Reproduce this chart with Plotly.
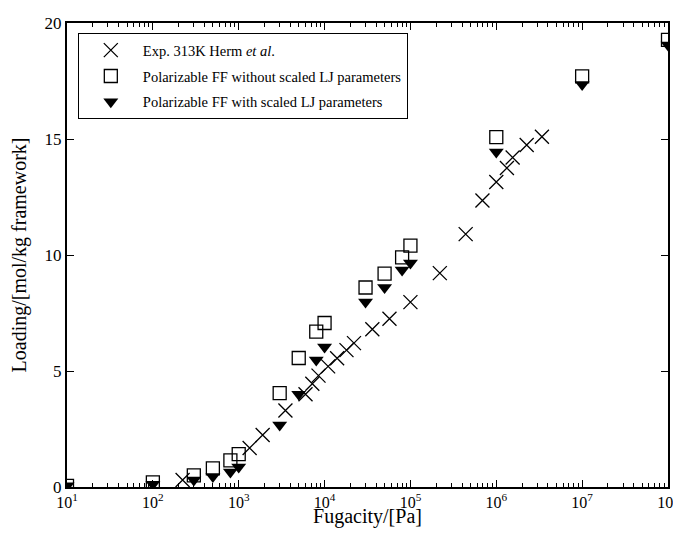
import plotly.graph_objects as go

# Experimental data (Herm et al., 313 K)
exp_fugacity = [222, 1340, 1900, 3500, 6000, 7200, 8500, 11000, 14000, 18000,
                22000, 36000, 57000, 100000, 220000, 440000, 690000, 1000000,
                1330000, 1550000, 2260000, 3400000]
exp_loading = [0.30, 1.68, 2.24, 3.30, 4.00, 4.45, 4.80, 5.20, 5.55, 5.90,
               6.20, 6.80, 7.25, 7.97, 9.22, 10.90, 12.35, 13.15,
               13.75, 14.20, 14.74, 15.10]

# Simulation fugacities
sim_fugacity = [10, 100, 300, 500, 800, 1000, 3000, 5000, 8000, 10000,
                30000, 50000, 80000, 100000, 1000000, 10000000, 100000000]
# Polarizable FF without scaled LJ parameters
unscaled_loading = [0.05, 0.20, 0.50, 0.80, 1.15, 1.42, 4.05, 5.56, 6.70, 7.07,
                    8.60, 9.20, 9.90, 10.40, 15.08, 17.70, 19.27]
# Polarizable FF with scaled LJ parameters
scaled_loading = [0.05, 0.12, 0.30, 0.45, 0.65, 0.86, 2.67, 4.00, 5.47, 6.03,
                  7.97, 8.60, 9.35, 9.65, 14.44, 17.35, 19.05]

x_tickvals = [10, 100, 1000, 10000, 100000, 1000000, 10000000, 100000000]
x_ticktext = ["10<sup>1</sup>", "10<sup>2</sup>", "10<sup>3</sup>", "10<sup>4</sup>",
              "10<sup>5</sup>", "10<sup>6</sup>", "10<sup>7</sup>", "10<sup>8</sup>"]
y_tickvals = [0, 5, 10, 15, 20]

FONT = "Liberation Serif, Times New Roman, serif"

fig = go.Figure()
fig.add_trace(go.Scatter(
    x=exp_fugacity, y=exp_loading, mode="markers",
    name="Exp. 313K Herm <i>et al</i>.", legendgroup="a",
    marker=dict(symbol="x-thin", size=14, color="black",
                line=dict(color="black", width=1.3)),
))
fig.add_trace(go.Scatter(
    x=sim_fugacity, y=unscaled_loading, mode="markers",
    name="Polarizable FF without scaled LJ parameters", legendgroup="b",
    marker=dict(symbol="square-open", size=13, color="black",
                line=dict(color="black", width=1.3)),
))
fig.add_trace(go.Scatter(
    x=sim_fugacity, y=scaled_loading, mode="markers",
    name="Polarizable FF with scaled LJ parameters", legendgroup="c",
    marker=dict(symbol="triangle-down", size=13, color="black",
                line=dict(width=0)),
))

fig.update_layout(
    width=673, height=520,
    margin=dict(l=59, r=13, t=15, b=41),
    paper_bgcolor="white", plot_bgcolor="white",
    font=dict(family=FONT, size=17, color="black"),
    showlegend=True,
    legend=dict(
        x=0.018, y=0.978, xanchor="left", yanchor="top",
        bordercolor="black", borderwidth=1, bgcolor="white",
        font=dict(family=FONT, size=14.5, color="black"),
        tracegroupgap=4, traceorder="grouped", itemwidth=54,
    ),
    xaxis=dict(
        type="log", range=[1, 8], tickvals=x_tickvals, ticktext=x_ticktext,
        ticks="inside", ticklen=7, tickwidth=1.2, tickcolor="black",
        minor=dict(ticks="inside", ticklen=4, tickcolor="black", dtick="D1", showgrid=False),
        showline=True, linecolor="black", linewidth=2, mirror="ticks",
        showgrid=False, zeroline=False, automargin=False,
        ticklabeloverflow="allow",
        title=dict(text="Fugacity/[Pa]", font=dict(family=FONT, size=20), standoff=0),
        tickfont=dict(family=FONT, size=16),
    ),
    yaxis=dict(
        range=[0, 20], tickvals=y_tickvals,
        ticks="inside", ticklen=7, tickwidth=1.2, tickcolor="black",
        showline=True, linecolor="black", linewidth=2, mirror="ticks",
        showgrid=False, zeroline=False, automargin=False,
        title=dict(text="Loading/[mol/kg framework]", font=dict(family=FONT, size=20)),
        tickfont=dict(family=FONT, size=17),
    ),
)

fig.write_html("out.html")
